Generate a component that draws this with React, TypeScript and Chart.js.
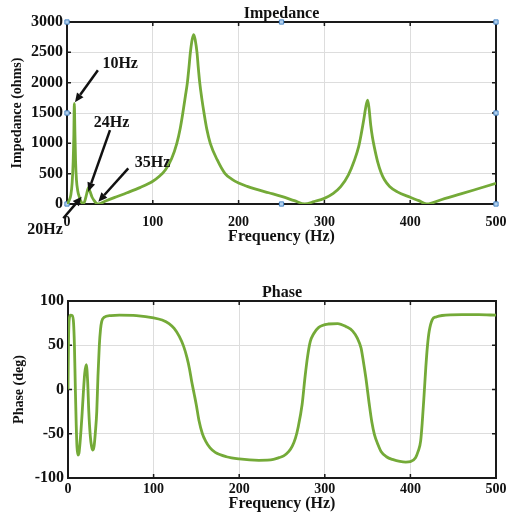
import React, { useEffect, useRef } from "react";
import { Chart, registerables } from "chart.js";
Chart.register(...registerables);

// ---------- data ----------
const impFreq = [0, 2.5, 4.5, 6, 7.2, 8, 8.5, 9.2, 10, 11, 12.5, 14.5, 16.5, 19, 21, 23, 25, 27, 29, 31.5, 34, 36.5, 45, 55, 70, 85, 100, 108, 115, 122, 128, 132, 135, 138, 140.3, 142, 143.8, 146, 147.7, 149.5, 151.5, 153, 154.7, 157, 159.7, 163, 167, 175, 184, 192, 200, 210, 220, 235, 250, 265, 277, 288, 300, 310, 319, 328, 335, 340, 343, 346, 348, 350.4, 352, 354, 356, 358, 362, 366, 370, 376, 385, 400, 410, 419, 440, 460, 480, 500];
const impOhms = [0, 60, 150, 350, 700, 1150, 1657, 1200, 700, 400, 220, 110, 40, 0, 60, 170, 268, 200, 120, 60, 15, 0, 50, 105, 185, 270, 375, 460, 570, 750, 1000, 1250, 1500, 1780, 2000, 2230, 2500, 2720, 2793, 2700, 2500, 2250, 2000, 1750, 1500, 1230, 1000, 730, 505, 410, 345, 290, 245, 185, 125, 55, 0, 40, 93, 170, 285, 480, 720, 950, 1160, 1400, 1580, 1712, 1580, 1300, 1100, 950, 700, 520, 400, 290, 200, 110, 55, 0, 90, 170, 255, 340];

const phFreq = [0, 0.6, 1.5, 3, 5, 6.5, 7.5, 8.5, 9.6, 10.5, 11.6, 12.8, 14.5, 16.3, 17.8, 19.5, 21.4, 23, 24.3, 26, 27.5, 29, 30.5, 32, 33.6, 35, 36.6, 38, 39.4, 42, 50, 60, 80, 100, 110, 118, 124, 130, 135, 139, 142, 144.5, 147.4, 150, 153, 157, 160.6, 166, 172, 185, 200, 223, 240, 246.5, 252, 258, 262, 265.7, 269, 273.5, 277, 280, 283, 287, 292.6, 304, 315, 325, 332.6, 338, 342.3, 345, 348, 352, 355, 358, 362, 365.7, 372, 379, 394.6, 400, 406, 409, 412, 414, 416, 418, 420, 422, 425.6, 430, 437, 460, 480, 500];
const phDeg = [0, 55, 80, 84, 83.5, 75, 50, 5, -40, -65, -74, -72, -55, -30, -6, 18, 28, 8, -25, -52, -64, -68.5, -64, -48, -25, 15, 50, 68, 77, 81.5, 83.5, 84, 83.5, 81, 78.5, 74.5, 69, 60, 49, 36, 23, 9, -5, -18, -35, -50, -58, -66, -71, -76, -78.5, -80, -79, -77, -75, -70, -64, -55, -42, -17, 15, 38, 54, 63, 70, 74, 74.5, 71, 66, 58, 47, 32, 13, -17, -37, -51, -62, -70, -76, -79, -82, -81.5, -77, -70, -58, -35, -6, 25, 50, 66, 79, 82, 83.6, 84.5, 84.5, 84];

const freqTicks = [0, 100, 200, 300, 400, 500];
const impTicks = [0, 500, 1000, 1500, 2000, 2500, 3000];
const phaseTicks = [-100, -50, 0, 50, 100];

// MATLAB-style selection handles on the impedance axes
const handleFreq = [0, 0, 0, 250, 250, 500, 500, 500];
const handleOhms = [0, 1500, 3000, 3000, 0, 0, 1500, 3000];

// annotations (data units)
const annLabels = ["10Hz", "24Hz", "35Hz", "20Hz"];
const annTextX = [62, 52, 99.7, -25.6];
const annTextY = [2310, 1341, 675, -420];
const annFromX = [36, 50.1, 71.4, -4.3];
const annFromY = [2206, 1218, 588, -235];
const annToX = [9.3, 24.8, 36.5, 17.1];
const annToY = [1679, 203, 38, 120];

const FONT = "'Liberation Serif', 'Times New Roman', serif";
const GREEN = "#74aa38";
const GRID = "#dddddd";

function makeFramePlugin(titleText: string, titleY: number, withAnn: boolean) {
  return {
    id: "frameAndText" + titleText,
    beforeDatasetsDraw(chart: any) {
      const { ctx, chartArea: a } = chart;
      const xs = chart.scales.x;
      const ys = chart.scales.y;
      ctx.save();
      ctx.strokeStyle = "#1a1a1a";
      ctx.lineWidth = 1.5;
      const tl = 4;
      ctx.beginPath();
      xs.ticks.forEach((t: any) => {
        const px = xs.getPixelForValue(t.value);
        ctx.moveTo(px, a.bottom);
        ctx.lineTo(px, a.bottom - tl);
        ctx.moveTo(px, a.top);
        ctx.lineTo(px, a.top + tl);
      });
      ys.ticks.forEach((t: any) => {
        const py = ys.getPixelForValue(t.value);
        ctx.moveTo(a.left, py);
        ctx.lineTo(a.left + tl, py);
        ctx.moveTo(a.right, py);
        ctx.lineTo(a.right - tl, py);
      });
      ctx.stroke();
      ctx.lineWidth = 2;
      ctx.strokeRect(a.left, a.top, a.right - a.left, a.bottom - a.top);
      ctx.restore();
    },
    afterDraw(chart: any) {
      const { ctx, chartArea: a } = chart;
      const xs = chart.scales.x;
      const ys = chart.scales.y;
      ctx.save();
      ctx.fillStyle = "#111";
      ctx.font = "bold 16px " + FONT;
      ctx.textAlign = "center";
      ctx.textBaseline = "alphabetic";
      ctx.fillText(titleText, (a.left + a.right) / 2, titleY);
      if (withAnn) {
        ctx.strokeStyle = "#111";
        ctx.fillStyle = "#111";
        ctx.lineWidth = 2.5;
        for (let i = 0; i < annLabels.length; i++) {
          const x0 = xs.getPixelForValue(annFromX[i]);
          const y0 = ys.getPixelForValue(annFromY[i]);
          const x1 = xs.getPixelForValue(annToX[i]);
          const y1 = ys.getPixelForValue(annToY[i]);
          const ang = Math.atan2(y1 - y0, x1 - x0);
          const hl = 9;
          const hw = 4;
          const bx = x1 - hl * Math.cos(ang);
          const by = y1 - hl * Math.sin(ang);
          ctx.beginPath();
          ctx.moveTo(x0, y0);
          ctx.lineTo(bx, by);
          ctx.stroke();
          ctx.beginPath();
          ctx.moveTo(x1, y1);
          ctx.lineTo(bx + hw * Math.sin(ang), by - hw * Math.cos(ang));
          ctx.lineTo(bx - hw * Math.sin(ang), by + hw * Math.cos(ang));
          ctx.closePath();
          ctx.fill();
          ctx.font = "bold 16px " + FONT;
          ctx.textAlign = "center";
          ctx.textBaseline = "middle";
          ctx.fillText(annLabels[i], xs.getPixelForValue(annTextX[i]), ys.getPixelForValue(annTextY[i]));
        }
      }
      ctx.restore();
    },
  };
}

function xScale(tickPad: number, titlePadBottom: number, height: number) {
  return {
    type: "linear",
    min: 0,
    max: 500,
    afterBuildTicks: (s: any) => {
      s.ticks = freqTicks.map((v) => ({ value: v }));
    },
    afterFit: (s: any) => {
      s.height = height;
      s.paddingLeft = 0;
      s.paddingRight = 0;
    },
    grid: { color: GRID, lineWidth: 1, drawTicks: false },
    border: { display: false },
    ticks: {
      padding: tickPad,
      color: "#111",
      font: { family: FONT, size: 14, weight: "bold" },
      callback: (v: any) => String(v),
    },
    title: {
      display: true,
      text: "Frequency (Hz)",
      color: "#111",
      font: { family: FONT, size: 16, weight: "bold" },
      padding: { top: 0, bottom: titlePadBottom },
    },
  };
}

function yScale(min: number, max: number, ticks: number[], title: string, titlePad: number, width: number) {
  return {
    type: "linear",
    min,
    max,
    afterBuildTicks: (s: any) => {
      s.ticks = ticks.map((v) => ({ value: v }));
    },
    afterFit: (s: any) => {
      s.width = width;
      s.paddingTop = 0;
      s.paddingBottom = 0;
    },
    grid: { color: GRID, lineWidth: 1, drawTicks: false },
    border: { display: false },
    ticks: {
      padding: 4,
      color: "#111",
      font: { family: FONT, size: 16, weight: "bold" },
      callback: (v: any) => String(v),
    },
    title: {
      display: true,
      text: title,
      color: "#111",
      font: { family: FONT, size: 14, weight: "bold" },
      padding: { top: titlePad, bottom: 0 },
    },
  };
}

function ImpedanceChart() {
  const ref = useRef<HTMLCanvasElement>(null);
  useEffect(() => {
    const chart = new Chart(ref.current as HTMLCanvasElement, {
      type: "line",
      data: {
        datasets: [
          {
            data: impFreq.map((f, i) => ({ x: f, y: impOhms[i] })),
            borderColor: GREEN,
            borderWidth: 2.8,
            pointRadius: 0,
            cubicInterpolationMode: "monotone",
            fill: false,
          },
          {
            type: "scatter",
            data: handleFreq.map((f, i) => ({ x: f, y: handleOhms[i] })),
            pointStyle: "rect",
            pointRadius: 3,
            backgroundColor: "#b3d1ee",
            borderColor: "#4a86c5",
            borderWidth: 1,
            clip: false,
            showLine: false,
          } as any,
        ],
      },
      options: {
        animation: false,
        responsive: false,
        events: [],
        layout: { padding: { top: 22, right: 11, left: 0, bottom: 0 } },
        plugins: { legend: { display: false }, tooltip: { enabled: false } },
        scales: {
          x: xScale(10, 14, 56) as any,
          y: yScale(0, 3000, impTicks, "Impedance (ohms)", 9, 67) as any,
        },
      },
      plugins: [makeFramePlugin("Impedance", 18, true)],
    } as any);
    return () => chart.destroy();
  }, []);
  return <canvas ref={ref} width={507} height={260} style={{ display: "block" }} />;
}

function PhaseChart() {
  const ref = useRef<HTMLCanvasElement>(null);
  useEffect(() => {
    const chart = new Chart(ref.current as HTMLCanvasElement, {
      type: "line",
      data: {
        datasets: [
          {
            data: phFreq.map((f, i) => ({ x: f, y: phDeg[i] })),
            borderColor: GREEN,
            borderWidth: 2.8,
            pointRadius: 0,
            cubicInterpolationMode: "monotone",
            fill: false,
          },
        ],
      },
      options: {
        animation: false,
        responsive: false,
        events: [],
        layout: { padding: { top: 41, right: 11, left: 0, bottom: 0 } },
        plugins: { legend: { display: false }, tooltip: { enabled: false } },
        scales: {
          x: xScale(3, 9, 44) as any,
          y: yScale(-100, 100, phaseTicks, "Phase (deg)", 11, 68) as any,
        },
      },
      plugins: [makeFramePlugin("Phase", 37, false)],
    } as any);
    return () => chart.destroy();
  }, []);
  return <canvas ref={ref} width={507} height={262} style={{ display: "block" }} />;
}

export default function App() {
  return (
    <div style={{ position: "absolute", left: 0, top: 0, width: 507, height: 522, background: "#fff" }}>
      <ImpedanceChart />
      <PhaseChart />
    </div>
  );
}
